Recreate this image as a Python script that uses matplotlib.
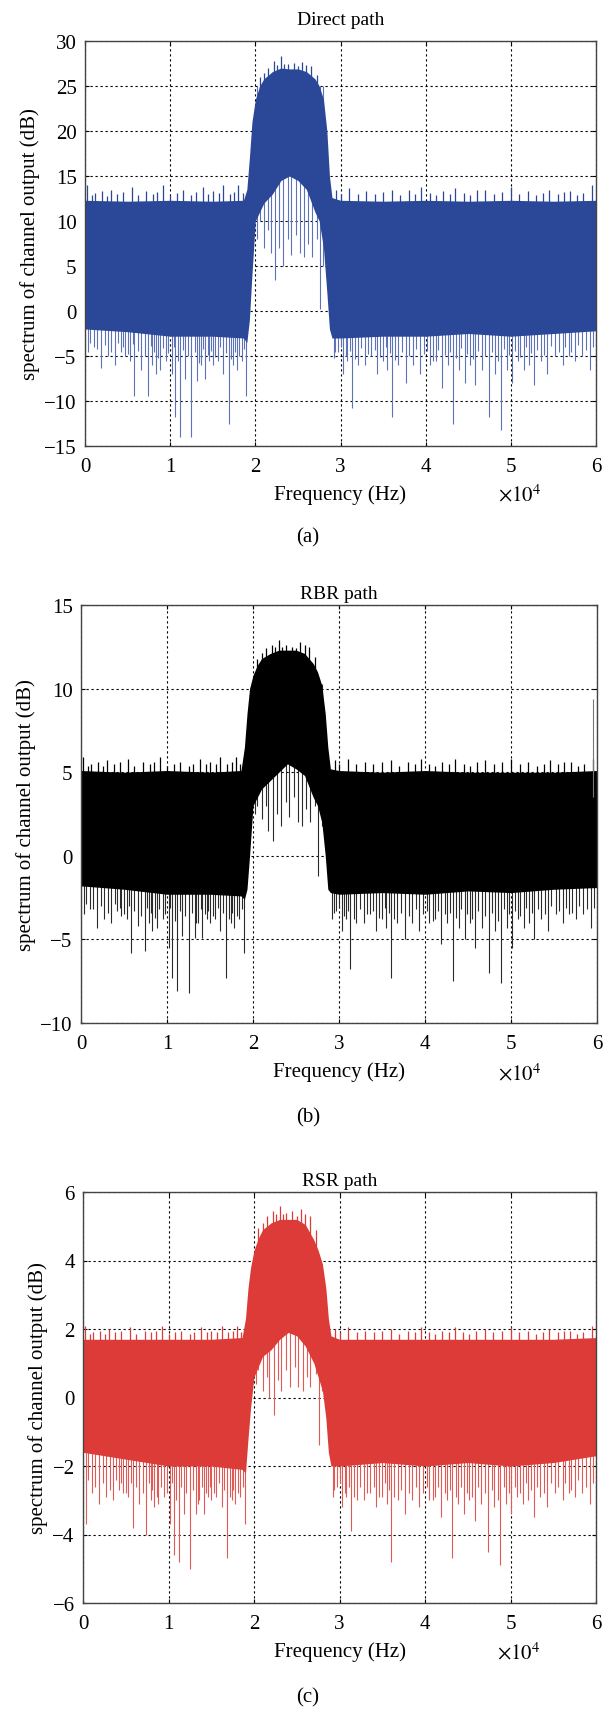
import numpy as np
import matplotlib
matplotlib.use('Agg')
import matplotlib.pyplot as plt
from matplotlib import rcParams

# Plot settings
rcParams['font.family'] = 'Liberation Serif'
rcParams['mathtext.fontset'] = 'stix'
rcParams['axes.labelsize'] = 15
rcParams['xtick.labelsize'] = 15
rcParams['ytick.labelsize'] = 15

# frequency in units of 1e4 Hz
env_f = [0.0, 0.5, 1.0, 1.5, 1.86, 1.90, 1.93, 1.96, 2.00, 2.05, 2.10, 2.20,
         2.30, 2.40, 2.50, 2.60, 2.70, 2.75, 2.80, 2.84, 2.87, 2.90, 3.0, 3.5,
         4.0, 4.5, 5.0, 5.5, 6.0]

# upper / lower edge of the dense part of each spectrum (dB)
upper_direct = [12.3, 12.2, 12.3, 12.2, 12.3, 13.5, 17.0, 21.0, 23.5, 25.0, 25.8,
                26.6, 27.0, 26.9, 26.9, 26.6, 25.8, 25.0, 23.5, 20.0, 15.0, 12.6,
                12.3, 12.2, 12.3, 12.2, 12.3, 12.2, 12.3]
lower_direct = [-2.0, -2.3, -2.8, -2.8, -3.0, -3.5, -1.0, 4.0, 10.0, 11.0, 12.0,
                13.0, 14.5, 15.0, 14.5, 13.5, 11.0, 10.0, 7.0, 2.0, -2.0, -3.0,
                -3.0, -2.8, -2.8, -2.5, -2.8, -2.5, -2.2]

upper_rbr = [5.1, 5.0, 5.1, 5.0, 5.1, 6.5, 8.5, 10.0, 10.8, 11.4, 11.8, 12.1,
             12.3, 12.3, 12.3, 12.1, 11.5, 11.0, 10.2, 8.5, 6.5, 5.2, 5.1, 5.0,
             5.1, 5.0, 5.0, 5.0, 5.1]
lower_rbr = [-1.8, -2.0, -2.3, -2.3, -2.4, -2.6, -2.0, 0.0, 3.0, 3.5, 4.0, 4.5,
             5.0, 5.5, 5.2, 4.8, 3.5, 3.0, 2.0, 0.0, -2.0, -2.2, -2.3, -2.2,
             -2.3, -2.1, -2.2, -2.0, -1.9]

upper_rsr = [1.7, 1.7, 1.7, 1.7, 1.75, 2.3, 3.2, 3.8, 4.3, 4.65, 4.9, 5.1, 5.2,
             5.2, 5.2, 5.05, 4.6, 4.3, 3.9, 3.2, 2.3, 1.8, 1.7, 1.7, 1.7, 1.7,
             1.7, 1.7, 1.75]
lower_rsr = [-1.6, -1.8, -2.0, -2.0, -2.1, -2.2, -1.2, -0.3, 0.6, 0.9, 1.2, 1.4,
             1.7, 1.9, 1.8, 1.5, 1.0, 0.6, 0.2, -0.6, -1.6, -2.0, -2.0, -1.9,
             -2.0, -1.9, -2.0, -1.9, -1.7]

# deep downward spikes outside the pass band
spike_f = [0.03, 0.10, 0.19, 0.27, 0.35, 0.42, 0.47, 0.53, 0.58, 0.66, 0.74, 0.79,
           0.83, 0.88, 0.95, 1.02, 1.06, 1.12, 1.18, 1.25, 1.32, 1.36, 1.41, 1.46,
           1.50, 1.56, 1.62, 1.69, 1.74, 1.78, 1.84, 1.89, 2.92, 2.97, 3.03, 3.08,
           3.13, 3.20, 3.29, 3.36, 3.43, 3.50, 3.55, 3.60, 3.68, 3.77, 3.85, 3.93,
           4.05, 4.12, 4.19, 4.26, 4.32, 4.39, 4.46, 4.52, 4.58, 4.66, 4.74, 4.81,
           4.88, 4.95, 5.01, 5.08, 5.15, 5.21, 5.27, 5.35, 5.43, 5.52, 5.61, 5.68,
           5.75, 5.84, 5.93]
spike_direct = [-4.5, -4.0, -6.3, -5.0, -6.0, -4.5, -5.0, -5.5, -9.4, -6.5, -9.4,
                -6.0, -7.0, -6.5, -5.5, -7.0, -11.8, -14.0, -7.5, -14.0, -7.8,
                -6.0, -7.5, -5.5, -6.0, -5.5, -7.0, -12.6, -6.0, -6.5, -5.5, -9.4,
                -5.2, -4.5, -7.0, -5.5, -10.8, -6.0, -6.0, -5.0, -7.0, -5.5, -6.5,
                -11.8, -6.0, -8.0, -6.0, -7.0, -6.0, -5.5, -8.5, -6.0, -12.6, -6.5,
                -8.0, -6.0, -8.2, -6.5, -11.8, -7.0, -13.2, -6.5, -8.0, -5.5, -6.5,
                -6.0, -8.2, -5.5, -7.0, -5.0, -6.0, -5.0, -5.5, -5.0, -6.5]
spike_rbr = [-3.5, -3.2, -4.3, -3.8, -4.0, -3.3, -3.6, -3.8, -5.8, -4.2, -5.7,
             -4.0, -4.5, -4.3, -3.8, -5.5, -7.3, -8.1, -4.8, -8.2, -4.9, -4.0,
             -4.9, -3.8, -4.0, -3.8, -4.5, -7.3, -4.0, -4.3, -3.8, -5.8, -3.8,
             -3.3, -4.5, -3.8, -6.8, -4.0, -4.0, -3.5, -4.5, -3.8, -4.3, -7.3,
             -4.0, -5.0, -4.0, -4.5, -4.0, -3.8, -5.3, -4.0, -7.5, -4.3, -5.0,
             -4.0, -5.5, -4.3, -7.0, -4.5, -7.6, -4.3, -5.5, -3.8, -4.3, -4.0,
             -5.0, -3.8, -4.5, -3.5, -4.0, -3.5, -3.8, -3.5, -4.3]
spike_rsr = [-3.7, -2.8, -3.1, -2.9, -3.0, -2.7, -2.8, -2.9, -3.8, -3.1, -4.0,
             -3.0, -3.2, -3.1, -2.9, -3.7, -4.6, -4.8, -3.4, -5.0, -3.4, -3.0,
             -3.4, -2.9, -3.0, -2.9, -3.2, -4.7, -3.0, -3.1, -2.9, -3.7, -2.9,
             -2.6, -3.2, -2.9, -3.9, -3.0, -3.0, -2.8, -3.2, -2.9, -3.1, -4.8,
             -3.0, -3.4, -3.0, -3.2, -3.0, -2.9, -3.5, -3.0, -4.7, -3.1, -3.4,
             -3.0, -3.6, -3.1, -4.5, -3.2, -4.9, -3.1, -3.4, -2.9, -3.1, -3.0,
             -3.5, -2.9, -3.2, -2.8, -3.0, -2.8, -2.9, -2.8, -3.1]

# shallower downward spikes between the deep ones
mid_f = [0.06, 0.14, 0.23, 0.31, 0.39, 0.45, 0.50, 0.56, 0.62, 0.70, 0.77, 0.81,
         0.86, 0.91, 0.98, 1.04, 1.09, 1.15, 1.21, 1.29, 1.34, 1.39, 1.44, 1.48,
         1.53, 1.59, 1.65, 1.72, 1.76, 1.81, 1.87, 2.94, 3.00, 3.06, 3.11, 3.17,
         3.24, 3.32, 3.40, 3.46, 3.53, 3.58, 3.64, 3.72, 3.81, 3.89, 3.98, 4.02,
         4.09, 4.15, 4.23, 4.29, 4.36, 4.42, 4.49, 4.55, 4.62, 4.70, 4.78, 4.85,
         4.92, 4.98, 5.05, 5.11, 5.18, 5.24, 5.31, 5.39, 5.47, 5.56, 5.64, 5.71,
         5.79, 5.88, 5.97]
mid_direct = [-3.5, -4.2, -3.8, -4.6, -3.6, -4.0, -4.8, -3.7, -4.4, -5.0, -3.9,
              -4.5, -5.2, -4.1, -4.7, -4.0, -5.5, -4.3, -5.0, -4.6, -5.8, -4.2,
              -4.9, -4.4, -5.1, -4.0, -4.7, -5.3, -4.5, -5.0, -4.2, -4.6, -4.0,
              -5.0, -4.4, -5.3, -4.1, -4.8, -4.3, -5.1, -4.0, -4.7, -5.4, -4.5,
              -5.0, -4.2, -4.8, -4.4, -5.6, -4.3, -4.9, -4.5, -5.2, -4.1, -4.8,
              -5.3, -4.4, -5.0, -4.6, -5.5, -4.2, -4.9, -4.4, -5.1, -4.0, -4.7,
              -4.3, -4.9, -3.9, -4.5, -4.0, -4.6, -3.8, -4.3, -4.0]
mid_rbr = [-2.9, -3.2, -3.0, -3.4, -2.9, -3.1, -3.5, -3.0, -3.3, -3.6, -3.1,
           -3.4, -3.7, -3.2, -3.5, -3.1, -3.9, -3.3, -3.6, -3.4, -4.0, -3.2,
           -3.5, -3.3, -3.6, -3.1, -3.4, -3.8, -3.4, -3.6, -3.2, -3.4, -3.1,
           -3.6, -3.3, -3.8, -3.2, -3.5, -3.3, -3.7, -3.1, -3.4, -3.8, -3.4,
           -3.6, -3.2, -3.5, -3.3, -3.9, -3.3, -3.5, -3.4, -3.7, -3.2, -3.5,
           -3.8, -3.3, -3.6, -3.4, -3.9, -3.2, -3.5, -3.3, -3.6, -3.1, -3.4,
           -3.2, -3.5, -3.0, -3.3, -3.1, -3.4, -3.0, -3.2, -3.1]
mid_rsr = [-2.4, -2.6, -2.5, -2.7, -2.4, -2.5, -2.8, -2.5, -2.6, -2.8, -2.5,
           -2.7, -2.9, -2.6, -2.8, -2.5, -3.0, -2.6, -2.8, -2.7, -3.1, -2.6,
           -2.8, -2.6, -2.8, -2.5, -2.7, -2.9, -2.7, -2.8, -2.6, -2.7, -2.5,
           -2.8, -2.6, -2.9, -2.6, -2.8, -2.6, -2.9, -2.5, -2.7, -2.9, -2.7,
           -2.8, -2.6, -2.8, -2.6, -3.0, -2.6, -2.8, -2.7, -2.9, -2.6, -2.8,
           -2.9, -2.6, -2.8, -2.7, -3.0, -2.6, -2.8, -2.6, -2.8, -2.5, -2.7,
           -2.6, -2.8, -2.5, -2.6, -2.5, -2.7, -2.4, -2.6, -2.5]

# downward spikes inside the pass band
pb_f = [2.02, 2.05, 2.10, 2.15, 2.18, 2.23, 2.28, 2.32, 2.38, 2.42, 2.48, 2.52,
        2.57, 2.62, 2.66, 2.72, 2.76, 2.80]
pb_direct = [8.0, 10.0, 7.0, 9.0, 6.5, 3.5, 7.0, 5.0, 8.0, 6.2, 8.5, 6.5, 6.0,
             7.5, 6.0, 8.0, 0.2, 5.0]
pb_rbr = [2.5, 3.0, 2.2, 3.0, 1.5, 0.9, 2.5, 1.8, 3.2, 2.3, 3.5, 2.0, 1.8, 2.8,
          2.0, 3.0, -1.2, 1.8]
pb_rsr = [0.4, 0.8, 0.2, 0.6, 0.0, -0.5, 0.5, 0.2, 0.8, 0.3, 0.9, 0.3, 0.2, 0.6,
          0.3, 0.7, -1.4, 0.2]

# upward peaks on the top edge
top_f = [0.02, 0.08, 0.12, 0.20, 0.26, 0.30, 0.38, 0.45, 0.55, 0.62, 0.72, 0.80,
         0.85, 0.92, 1.00, 1.08, 1.15, 1.25, 1.30, 1.38, 1.45, 1.50, 1.57, 1.62,
         1.70, 1.75, 1.80, 1.85, 2.05, 2.10, 2.15, 2.22, 2.26, 2.30, 2.34, 2.38,
         2.45, 2.50, 2.55, 2.60, 2.65, 2.72, 2.95, 3.00, 3.10, 3.20, 3.30, 3.40,
         3.50, 3.60, 3.70, 3.80, 3.88, 3.95, 4.05, 4.12, 4.20, 4.28, 4.35, 4.45,
         4.52, 4.60, 4.70, 4.80, 4.90, 5.00, 5.10, 5.20, 5.30, 5.38, 5.45, 5.55,
         5.62, 5.70, 5.78, 5.85, 5.95]
top_direct = [14.0, 12.9, 13.1, 13.3, 12.8, 13.5, 13.0, 13.2, 13.8, 12.9, 13.3,
              13.0, 13.2, 14.0, 12.9, 13.1, 13.4, 12.9, 13.2, 13.8, 13.0, 13.3,
              13.1, 14.0, 13.0, 13.2, 14.0, 13.1, 26.0, 26.5, 27.0, 27.8, 27.3,
              28.3, 27.4, 27.5, 27.6, 27.2, 27.7, 27.3, 27.2, 26.2, 13.5, 13.0,
              13.7, 13.0, 13.3, 13.0, 13.2, 13.5, 12.9, 13.4, 13.0, 13.8, 13.1,
              12.9, 13.3, 13.0, 13.7, 13.1, 12.9, 13.4, 13.5, 13.0, 13.2, 13.8,
              13.0, 13.3, 12.9, 13.1, 13.4, 13.0, 13.2, 13.3, 12.9, 13.1, 14.0]
top_rbr = [5.9, 5.4, 5.5, 5.6, 5.4, 5.7, 5.5, 5.6, 5.8, 5.4, 5.6, 5.5, 5.6, 5.9,
           5.4, 5.5, 5.6, 5.4, 5.5, 5.8, 5.5, 5.6, 5.5, 5.9, 5.5, 5.6, 5.9, 5.5,
           11.8, 12.1, 12.4, 12.6, 12.5, 12.9, 12.5, 12.6, 12.5, 12.4, 12.8,
           12.6, 12.5, 11.9, 5.7, 5.5, 5.8, 5.5, 5.6, 5.5, 5.6, 5.7, 5.4, 5.6,
           5.5, 5.8, 5.5, 5.4, 5.6, 5.5, 5.8, 5.5, 5.4, 5.6, 5.7, 5.5, 5.6, 5.8,
           5.5, 5.6, 5.4, 5.5, 5.7, 5.5, 5.6, 5.6, 5.4, 5.5, 5.8]
top_rsr = [2.1, 1.85, 1.9, 1.95, 1.85, 2.0, 1.9, 1.95, 2.05, 1.85, 1.95, 1.9,
           1.95, 2.1, 1.85, 1.9, 1.95, 1.85, 1.9, 2.05, 1.9, 1.95, 1.9, 2.1, 1.9,
           1.95, 2.1, 1.9, 4.95, 5.1, 5.3, 5.45, 5.35, 5.6, 5.35, 5.4, 5.45, 5.3,
           5.5, 5.35, 5.3, 4.9, 2.0, 1.9, 2.05, 1.9, 1.95, 1.9, 1.95, 2.0, 1.85,
           1.95, 1.9, 2.05, 1.9, 1.85, 1.95, 1.9, 2.05, 1.9, 1.85, 1.95, 2.0,
           1.9, 1.95, 2.05, 1.9, 1.95, 1.85, 1.9, 2.0, 1.9, 1.95, 1.95, 1.85,
           1.9, 2.1]

# lone tall line near the right edge of the RBR spectrum
rbr_edge_f = [5.95]
rbr_edge_lo = [3.5]
rbr_edge_hi = [9.4]

panels = [
    ('Direct path', '#2b4798', '#5d72b9', upper_direct, lower_direct,
     spike_direct, mid_direct, pb_direct, top_direct, (-15, 30),
     np.arange(-15, 31, 5), [85, 42, 596, 447], 12, '(a)', 538),
    ('RBR path', 'black', '#2a2a2a', upper_rbr, lower_rbr,
     spike_rbr, mid_rbr, pb_rbr, top_rbr, (-10, 15),
     np.arange(-10, 16, 5), [81, 606, 597, 1024], 5, '(b)', 1118),
    ('RSR path', '#dc3b38', '#e25a56', upper_rsr, lower_rsr,
     spike_rsr, mid_rsr, pb_rsr, top_rsr, (-6, 6),
     np.arange(-6, 7, 2), [83, 1193, 596, 1604], 5, '(c)', 1698),
]

W, H = 612, 1715
fig = plt.figure(figsize=(W / 100, H / 100), dpi=100)

for (title, col, col_l, up, lo, sp, md, pb, tp, ylim, yt, box, tpad,
     cap, cap_y) in panels:
    x0, y0, x1, y1 = box
    ax = fig.add_axes([x0 / W, 1 - y1 / H, (x1 - x0) / W, (y1 - y0) / H])
    ax.set_axisbelow(True)
    ax.grid(True, color='black', linestyle=(0, (2, 2.5)), linewidth=0.8)

    # spikes sit under the dense band, so only their tips show
    base = up[0] - 1
    dip = (ylim[1] - ylim[0]) * 0.06
    ax.vlines(spike_f, sp, base, color=col_l, linewidth=0.8, zorder=1.5)
    ax.vlines(mid_f, md, base, color=col_l, linewidth=0.8, zorder=1.5)
    ax.vlines(pb_f, pb, up[12] - 2, color=col_l, linewidth=0.8, zorder=1.5)
    ax.vlines(top_f, np.array(tp) - dip, tp, color=col, linewidth=0.9,
              zorder=1.5)
    ax.fill_between(env_f, lo, up, color=col, linewidth=0, zorder=2)
    if title == 'RBR path':
        ax.vlines(rbr_edge_f, rbr_edge_lo, rbr_edge_hi, color='#777777',
                  linewidth=0.8, zorder=2.5)

    ax.set_xlim(0, 6)
    ax.set_ylim(*ylim)
    ax.set_xticks(range(7))
    ax.set_yticks(yt)
    ax.set_yticklabels([str(v).replace('-', '\u2212') for v in yt])
    ax.tick_params(direction='in', length=3, top=True, right=True)
    ax.tick_params(axis='x', pad=8)
    ax.tick_params(axis='y', pad=6)
    for s in ax.spines.values():
        s.set_color('#444444')
        s.set_linewidth(1.0)

    ax.set_title(title, fontsize=14, pad=tpad)
    ax.set_xlabel('Frequency (Hz)', labelpad=6)
    ax.set_ylabel('spectrum of channel output (dB)', labelpad=3)
    ax.text(0.85, -0.12, r'$\times 10^{4}$', transform=ax.transAxes,
            fontsize=15, ha='center', va='center')
    fig.text(308 / W, 1 - cap_y / H, cap, fontsize=15, ha='center', va='center')

plt.savefig('out.png', dpi=100)
